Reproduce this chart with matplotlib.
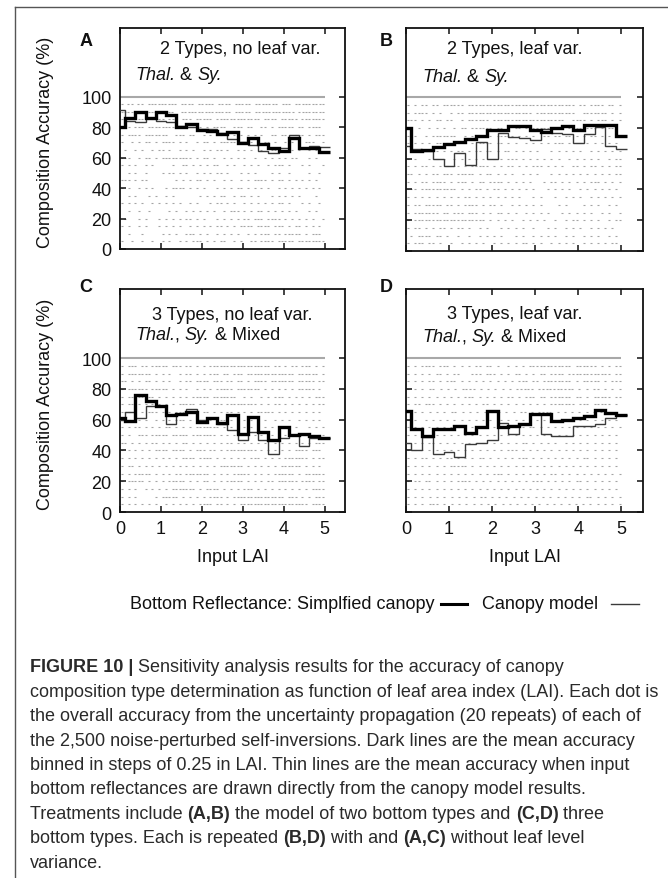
import numpy as np
import matplotlib.pyplot as plt

plt.rcParams['font.family'] = ['Liberation Sans', 'DejaVu Sans']

W, H = 668, 879

# Mean composition accuracy (%) per LAI bin (bin centres 0, 0.25, ..., 5)
lai_bins = np.arange(0, 5.001, 0.25)

simplified_A = [80, 86, 90, 86, 90, 88, 80, 82, 78, 77.5, 75.5, 77, 69.5, 73, 69, 66.5, 64.5, 73, 66, 66.5, 63.5]
canopy_A = [91, 84, 83.5, 86, 84, 83, 81, 80, 78.5, 78.5, 76, 72, 70, 68, 64, 63, 66, 74.5, 66.5, 67.5, 67]

simplified_B = [80, 65, 65.5, 67.5, 69.5, 71, 73, 74.5, 78.5, 79, 81, 81, 78.5, 77.5, 80, 81.5, 78.5, 82, 82, 82, 75]
canopy_B = [68, 66, 65, 60, 55.5, 64, 56, 71, 60, 76.5, 74, 73.5, 72, 79.5, 76.5, 76, 70, 76, 80.5, 68.5, 66]

simplified_C = [61, 59, 76, 72, 69, 63, 64, 65, 58.5, 61, 58, 63, 51, 62, 52, 47, 55, 50, 51, 49.5, 48]
canopy_C = [60, 65, 61, 69, 69, 57, 64, 67, 60, 61, 57, 53, 47, 52, 47, 38, 48, 50, 43, 48, 48]

simplified_D = [65.5, 54, 49.5, 54, 54, 56, 51.5, 55, 65.5, 55, 56, 57, 63.5, 64, 59, 60, 61, 62.5, 66.5, 64.5, 63]
canopy_D = [45, 40.5, 49, 38, 39, 35.5, 44.5, 45, 47, 58, 50.5, 57, 63.5, 50.5, 49.5, 49.5, 56, 56, 57, 61, 63]

# Individual runs: accuracy comes in 5 % steps (20 repeats); each row string marks
# where along LAI 0-5 runs with that accuracy occur ('#' = run present)
accuracy_rows = [95, 90, 85, 80, 75, 70, 65, 60, 55, 50, 45, 40, 35, 30, 25, 20, 15, 10, 5]

runs_A = [
    "#.##.##.#########.####.#####.####.#####.#######.###.#########",
    "####.########.##..###############.#####.############.########",
    "###.####.####.###.###.#####.#############.####.#####.#######",
    ".##.###.#########.##.#.#.#.####..###.##..##.#.#####.##.####.",
    "#.####.#######..###.##..#.#.##.#.###.#.#.#..##.##..###.#.###",
    "#..#.#.##.#.####.#.#..#.##.#.#####..#.#.#.##.#..#.#.#.###..#",
    ".#..#.#..#.##.#..#.#.#..#.#.##.#..#.#.#..#..##.#..#.#..#.#..",
    "###..#.##.#.#########.#.##.#..#.#.#.#..#..#.#.#.#.##...#.#..",
    "#.#.#..#.#.....#..##.#.#.#.##..#.#..#.#.#..#.###.#...#.#...#",
    "..#.#..#....#.##.#.#..#.#.#.##.#...#.#.#....#.#..#.....#..#.",
    "###.#.##........#.#.#.##.#.#..#.#..#.#.####.#.##.#.#.#.#.#..",
    "#.#..#.#.#...#.####.#.#.#...#.#.#.##.#.#.#.#..#.#.#.#.#.#.#.",
    "..#.#...#.#..#.#.......#.#.#.##..#.##.#.#...#.#.#.#.#....#..",
    "#.#.#.#..#.#.#.#.#..#.#...#.##.#.#..#.#.#.#.#.##.#...#.#..#.",
    "..#..#..#.....#.#..#.#.#.#.#..#.###.#.#.##.#.#.#.#.#...#.#..",
    ".#...#.#...#.#.#.#.##.#.#...#.#.#.#.##.###.####.#.#.#.#.#..#",
    "#.#..#.#...#.#.#.#..#.#.#.#.##.#.#.####.####.###.#.##.#.#.#.",
    "..#...#.....#.#.#..###.#.#..#.#.#.#..#.#.###.##.#####.#.###.",
    "#..#..#..#..#.#..#.#.###.#.#.##..#.#..##.####.#####.########",
]

runs_B = [
    "#.#.##.##.######.##############################.##.####.##.#",
    "#.####.#.#..#.##.##################.###########..#######.#.#",
    "###.#.#.##.##..#.######.####################..####.#.###.#.#",
    ".#.#..#.#.#..#.##.######.##.#.##.#########.#.#.######.#.##..",
    "#.#..#.#######..#.##..##.#####.#.#.#..##.##.##.#.#.##.#.#.#.",
    "#.#.#.#.##.#.##.#.#.####.##.#.#..#.#.#.#.###.#.##.#.#.#.#.#.",
    ".#.#.#..#.#.#.##.#.##.##.#.##.#.#.#.#...#.#.#.#.#..#.#.#.#.#",
    "#.#...#.#.#..#.#.#.#.#..#.#.###.#.#.#.#.#.#..#.#.#.#.#..#.##",
    "#.#.##.#.#.#.##.#.#####.#.#.##.#.#.###.#.#.#..##.#.##.#.#.##",
    "##.#.#.##.###.#####.#.##.#.#.#..#.#.#...#.#.#.#.#.#.#.#.#.##",
    "#.#.##.####.#.###.#.##.####.#.#.#.#...#.##.#.#.#.#.###.#.#.#",
    "###.##########.#.#.##.#.##.#.#.#.#.#...#.#.#.#..#.#.#.#.#.#.",
    "#.#.#.#.#.#.#.#.##.#.#.#.#.#.#.#...#.#...#..#.#.#..#.#.#.#.#",
    "#.##.#####.##.#.####.#.##.#..#.#.#.#.#....#.#....#.#.#..#.#.",
    "#.#######.##.###.###.#.#.##.#.#..#.#.#.#...#.#.#.#.#..#.#..#",
    "#.####################.#.#.#.#..#.#.#.#..#..#.##.#.#.#..#.##",
    "#.##.#.#.##.#.##.#..#.#...#.#.#.#..#...#.#..#.#.#..#.#.#.#..",
    ".#.####.##.#..#..#..#.#.#.#...#.#..#.#.#.#..#.#..#.#.#..#.#.",
    "#.###.##.#..#..#.#.#.#..#.#.#.#.##.#.#..#.#.#.#..#.#.#.#.##.",
]

runs_C = [
    "#.###.##.#####.###.##.#.#.##################.##.#.##.###.#.#",
    "#.#######.#.#.#..#.##.#.#.###.##.###.##############.######.#",
    "##.#.#.##.#.#.#..#.##.####.###.##.##.#.####.#######.#####.##",
    "#.######.#####.#.#.#..#.#.#.#####.#######.#.#.#.#.#.#####.#.",
    "#.#####.##.#.#.#.#.#.#####.#######..#.#..#.#.###.#.#.#.#.###",
    "#.##.#.#.#.#.#.#.#####.##..###.#########.#.#.##.#.#.#.#.#.##",
    "###.#.#.###.#.#.###.#.#.##.#.#.##.#.#.#.#####.#.#.#.#.#.#.#.",
    "#.#..#.#..#.#.#.###.#.#.#.#.#####.#.#.#.#.#..#.#.#..#.#.#.#.",
    "#.#.##.#.#.#.##.#.#.#.#######.#.#.#.#.#.#.#.#..#.#.#...#.#.#",
    "#.#..###.#####.#####.#######.#.#.#.#.#.#.#..#.#.#.#.#...#.##",
    "##.#.#.#.##.#.#.#.##.#.#.#.#.#.##.#.#.#.#.#..#.#.#.#.#.#.###",
    "#.#.#.#.#.####.####.#.###.##.#.#########.#.#.#.#.#.####.###.",
    "#.#.#.#.#.#.#.#.#.####.####.#.#.#.#.#.###.#.#.#.#######.#.##",
    "#.##.#.#.#.#.#.#.#.#.#.#.#.#.#######.#.#.#.#.#.######.#.#.#.",
    "#.#.#####.#.#.#.##.#######.#.#.#.#####.#.#.#.######.#.######",
    "#.#####.#.#.#.#####.#.#.##.#.#.#####.#.#.#.##.######.####.##",
    "#.#.#..#.#.#.#.#######.#.####.#.#.#.###.#.#.#.#.#.#.#.#.####",
    "#.#.#.....#.#####.#.#.#.#.####.#.###############.###.#.#.###",
    "#.#.#.#.#.#..#.#.#.#.#.####.##.#.#.####################.####",
]

runs_D = [
    "#.#.####.###.#.#.#.##.##.#..#.#.#.############.######.#.#.##",
    "#.#.#.#.##.#.##...###.###.#.#.##.#.#.##.####.############.##",
    "#.#.#.##.#.###.#.#.#.#.#.#.#.#.###.##.########.#.#####.#.###",
    "#.#.#.##.#.#.#.####.#.#.#.#.#.#####.##########.#.#.##.#.#.#",
    "#.#.#.#.#.#.#.#.###.#.#.#.#.##.#.###.##.######.##.#.#####.##",
    "#.##.###.#.#.#.#.#.#.##.#.#.#.#.#.#.#.#.#######.###.#####.#.",
    "#.#.#.#.#.#.##.#.#.#.#.#.#.#.#.##.#.####.#.#.#.#.#.#.#.#.#.",
    "#.#..#.#.#.#.#.#.#.#.#.#..#.#.#.#.#.#.#.#.#.#.#.#.#.#.#.#.#.",
    "#.#.#.#.#.#.#.#.#.#.#.#.#.#.#.#.#.##.#.#.#.#.#.#.#.#.#.#.#.#",
    "#.#.#.#.#.#.#.#.#.#.#.#.#.#.#.#.#.#.#.#.#.#.#.#.#.#.#.#.#.#.",
    "#.#.#.##.#.#.#.#.#.#.#..#.#.#.#.##.#.#.#.#..#.#.#.#.#.#.#.#.",
    "#.#.#.#.#.#.#.#.#.#.#.#.#.#.###.#.#.#.#.#.#.#.#.#.#.#.#.#.#.",
    "#.#.##.#.#.##.#.#.#.##.#.#.#.#.###.#.#.#.#.#.#.#.##.#.#.#.#.",
    "#.#.#.#.#.#.#####.#.#.#.#.#.#.#.#.#.#.#.#.#.#.#.#.#.#.#.#.#.",
    "#.#.#.#.#.#.#.#.#.#.#.#.###.#.#.#.#.#.#.##.#.#.#.#.#.#.#.#.#",
    "#.##.##.#.#.#.####.#.#.#.#.#.#.#.#.###.#.#.#.#.##.#.#.#.#.#.",
    "#.#.#.#.#.#.#.#.#.#.#.#.#.#.#.#.#.#.#.#.#.#.#.#.#.#.#.#.#.#.",
    "#.#.#.#.#.#.#.#.#.#.##.#.#.#.#.#.#.#.#.#.#.#.#.#.##.#.#.#.#",
    "#.#.#.###.#.#.#.#.#.#.#.#.#.#.#.#.#.#.#.#.#.#.#.#.#.#.#.#.#",
]

panel_letters = ["A", "B", "C", "D"]
panel_titles = ["2 Types, no leaf var.", "2 Types, leaf var.",
                "3 Types, no leaf var.", "3 Types, leaf var."]
two_types = [("Thal.", "italic"), (" & ", "normal"), ("Sy.", "italic")]
three_types = [("Thal.", "italic"), (", ", "normal"), ("Sy.", "italic"), (" & Mixed", "normal")]

y_ticks = [0, 20, 40, 60, 80, 100]
x_ticks = [0, 1, 2, 3, 4, 5]

fig = plt.figure(figsize=(W / 100, H / 100), dpi=100)


def px_box(left, top, right, bottom):
    return [left / W, 1 - bottom / H, (right - left) / W, (bottom - top) / H]


boxes = [px_box(120, 29, 345, 250), px_box(406, 29, 643, 252),
         px_box(120, 290, 345, 513), px_box(406, 290, 643, 513)]
simplified = [simplified_A, simplified_B, simplified_C, simplified_D]
canopy = [canopy_A, canopy_B, canopy_C, canopy_D]
runs = [runs_A, runs_B, runs_C, runs_D]

edges = np.append(lai_bins - 0.125, lai_bins[-1] + 0.125)
axes = []
for i in range(4):
    ax = fig.add_axes(boxes[i])
    axes.append(ax)
    # individual runs as faint specks
    for level, row in zip(accuracy_rows, runs[i]):
        idx = np.flatnonzero(np.array(list(row)) == "#")
        xs = (idx + 0.5) * 5.0 / len(row)
        ax.plot(xs, np.full(len(xs), level), ls="none", marker="_",
                ms=1.7, mew=0.8, color="#a4a4a4", zorder=1)
    ax.hlines(100, 0, 5, color="#a8a8a8", lw=1.5, zorder=2)
    ax.stairs(canopy[i], edges, baseline=None, color="#3a3a3a", lw=1.0, zorder=3)
    ax.stairs(simplified[i], edges, baseline=None, color="black", lw=2.4, zorder=4)
    ax.set_xlim(0, 5.5)
    ax.set_ylim(0, 145)
    ax.set_xticks(x_ticks)
    ax.set_yticks(y_ticks)
    ax.tick_params(direction="in", length=4, width=1.1, top=True, right=True,
                   labelsize=13, pad=6, colors="#111111")
    ax.tick_params(labelbottom=(i >= 2), labelleft=(i % 2 == 0))
    for s in ax.spines.values():
        s.set_linewidth(1.3)
        s.set_color("#111111")

# Figure-wide pixel overlay for annotations
ov = fig.add_axes([0, 0, 1, 1], zorder=10)
ov.set_xlim(0, W)
ov.set_ylim(H, 0)
ov.axis("off")

# page frame
ov.plot([15, 15], [8, H], color="#555555", lw=1.0)
ov.plot([15, W], [8, 8], color="#555555", lw=1.0)


def rich(x, y, pieces, size=13, color="#111111", va="center"):
    prev = None
    for text, style, weight in pieces:
        if prev is None:
            prev = ov.text(x, y, text, fontsize=size, style=style, weight=weight,
                           color=color, ha="left", va=va)
        else:
            prev = ov.annotate(text, xy=(1, 0), xycoords=prev, fontsize=size,
                               style=style, weight=weight, color=color,
                               ha="left", va="bottom")
    return prev


letter_pos = [(86, 42), (386, 42), (86, 288), (386, 288)]
title_pos = [(160, 50), (447, 50), (152, 316), (447, 315)]
species_pos = [(135, 76), (422, 77), (135, 336), (422, 338)]
species = [two_types, two_types, three_types, three_types]
for i in range(4):
    ov.text(*letter_pos[i], panel_letters[i], fontsize=13, weight="bold",
            ha="center", va="center", color="#111111")
    ov.text(*title_pos[i], panel_titles[i], fontsize=13, ha="left", va="center",
            color="#111111")
    rich(*species_pos[i], [(t, s, "normal") for t, s in species[i]])

for yc in (142, 404):
    ov.text(46, yc, "Composition Accuracy (%)", fontsize=13, rotation=90,
            ha="center", va="center", color="#111111")
for xc in (233, 525):
    ov.text(xc, 558, "Input LAI", fontsize=13, ha="center", va="center",
            color="#111111")

# line-style key: each sample line follows its text with a gap
renderer = fig.canvas.get_renderer()
to_px = ov.transData.inverted()
key_y = 605
t1 = ov.text(130, key_y, "Bottom Reflectance: Simplfied canopy", fontsize=13,
             ha="left", va="center", color="#111111")
x_end = to_px.transform(t1.get_window_extent(renderer).get_points())[1, 0]
ov.plot([x_end + 6, x_end + 32], [key_y, key_y], color="black", lw=2.2)
t2 = ov.text(x_end + 48, key_y, "Canopy model", fontsize=13, ha="left",
             va="center", color="#111111")
x_end2 = to_px.transform(t2.get_window_extent(renderer).get_points())[1, 0]
ov.plot([x_end2 + 12, x_end2 + 40], [key_y, key_y], color="#3a3a3a", lw=1.0)

# caption
N, B = "normal", "bold"
caption = [
    [("FIGURE 10 |", N, B), (" Sensitivity analysis results for the accuracy of canopy", N, N)],
    [("composition type determination as function of leaf area index (LAI). Each dot is", N, N)],
    [("the overall accuracy from the uncertainty propagation (20 repeats) of each of", N, N)],
    [("the 2,500 noise-perturbed self-inversions. Dark lines are the mean accuracy", N, N)],
    [("binned in steps of 0.25 in LAI. Thin lines are the mean accuracy when input", N, N)],
    [("bottom reflectances are drawn directly from the canopy model results.", N, N)],
    [("Treatments include ", N, N), ("(A,B)", N, B), (" the model of two bottom types and ", N, N),
     ("(C,D)", N, B), (" three", N, N)],
    [("bottom types. Each is repeated ", N, N), ("(B,D)", N, B), (" with and ", N, N),
     ("(A,C)", N, B), (" without leaf level", N, N)],
    [("variance.", N, N)],
]
for k, line in enumerate(caption):
    rich(30, 668 + 24.4 * k, line, size=13, color="#2a2a2a")

fig.savefig("out.png", dpi=100)
